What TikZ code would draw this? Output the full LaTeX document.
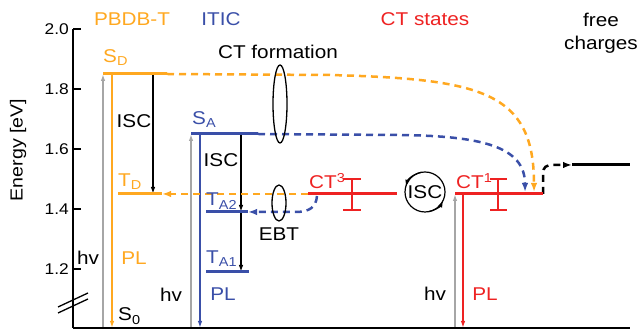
\documentclass[tikz,border=0pt]{standalone}
\usepackage{fontspec}
\setmainfont{Liberation Sans}[FakeStretch=1.12]
\usetikzlibrary{arrows.meta,calc}
\definecolor{orng}{HTML}{FFA820}
\definecolor{blu}{HTML}{3A4FA8}
\definecolor{rd}{HTML}{EE2222}
\definecolor{gry}{HTML}{A6A6A6}
\begin{document}
\begin{tikzpicture}[x=1pt,y=1pt,
  lab/.style={font=\fontsize{18.5}{20}\selectfont, inner sep=0pt},
  num/.style={font=\fontsize{15.5}{17}\selectfont, inner sep=0pt, anchor=east},
  level/.style={line width=3pt},
  tip/.style={-{Latex[length=7pt,width=4.5pt]}},
  dtip/.style={-{Latex[length=9pt,width=6.5pt]}},
  thin/.style={line width=1.3pt},
  dsh/.style={line width=2.5pt, dash pattern=on 7pt off 5pt},
  errbar/.style={rd, line width=1.2pt}]
\useasboundingbox (0,0) rectangle (642,331);
% coordinates
\coordinate (G0) at (73,3);
\coordinate (G1) at (630,3);
\coordinate (Atop) at (73,302);
\coordinate (SDl) at (103,257); \coordinate (SDr) at (167,257);
\coordinate (TDl) at (118,137); \coordinate (TDr) at (162,137);
\coordinate (SAl) at (191,197); \coordinate (SAr) at (258,197);
\coordinate (TA2l) at (206,119); \coordinate (TA2r) at (248,119);
\coordinate (TA1l) at (206,59); \coordinate (TA1r) at (249,59);
\coordinate (CT3l) at (308,137); \coordinate (CT3r) at (397,137);
\coordinate (CT1l) at (455,137); \coordinate (CT1r) at (543,137);
\coordinate (FCl) at (572,166); \coordinate (FCr) at (630,166);
% axis
\draw[thin] (G0) -- (Atop);
\foreach \yy/\tx in {302/2.0,242/1.8,182/1.6,122/1.4,62/1.2}{
  \draw[thin] (73,\yy) -- (81,\yy);
  \node[num] at (69,\yy) {\tx};
}
\draw[thin] (58,24) -- (88,38);
\draw[thin] (58,18) -- (88,32);
\node[lab, font=\fontsize{17.5}{19}\selectfont, rotate=90] (elab) at (18,181) {Energy [eV]};
% headers
\node[lab, text=orng] (h1) at (132,312) {PBDB-T};
\node[lab, text=blu] (h2) at (221,312) {ITIC};
\node[lab, text=rd] (h3) at (425,312) {CT states};
\node[lab] (h4) at (601,311) {free};
\node[lab] (h5) at (601,286) {charges};
\node[lab] (ctf) at (278,279) {CT formation};
% vertical arrows
\draw[gry, line width=1.5pt, tip] (SDl|-G0) -- (SDl);
\draw[orng, line width=1.5pt, tip] (112,257) -- (112,3);
\draw[thin, tip] (153,257) -- (153,137);
\draw[gry, line width=1.5pt, tip] (SAl|-G0) -- (SAl);
\draw[blu, line width=1.5pt, tip] (200,197) -- (200,3);
\draw[thin, tip] (241,197) -- (241,119);
\draw[thin, tip] (241,119) -- (241,59);
\draw[gry, line width=1.5pt, tip] (CT1l|-G0) -- (CT1l);
\draw[rd, line width=1.5pt, tip] (463,137) -- (463,3);
% dashed transfers
\draw[orng, dsh, dtip] (SDr) -- (330,256) .. controls (480,252) and (534,240) .. (534,139);
\draw[blu, dsh, dtip] (SAr) -- (400,196) .. controls (480,195) and (525,185) .. (525,139);
\draw[orng, dsh, dtip] (CT3l) -- (TDr);
\draw[blu, dsh, dtip] (317,135) .. controls (316,124) and (310,119) .. (295,119) -- (TA2r);
\draw[dsh, dtip] (CT1r) -- (543,157) .. controls (543,164) and (546,166) .. (553,166) -- (FCl);
% levels
\draw[orng, level] (SDl) -- (SDr);
\draw[orng, level] (TDl) -- (TDr);
\draw[blu, level] (SAl) -- (SAr);
\draw[blu, level] (TA2l) -- (TA2r);
\draw[blu, level] (TA1l) -- (TA1r);
\draw[rd, level] (CT3l) -- (CT3r);
\draw[rd, level] (CT1l) -- (CT1r);
\draw[level] (FCl) -- (FCr);
\draw[line width=2.5pt] (G0) -- (G1);
% error bars
\draw[errbar] (352,121) -- (352,152) (343,121) -- (361,121) (343,152) -- (361,152);
\draw[errbar] (498,121) -- (498,152) (490,121) -- (507,121) (490,152) -- (507,152);
% ellipses
\draw[thin] (280,227) ellipse [x radius=7, y radius=39];
\draw[thin] (279,128) ellipse [x radius=7, y radius=18];
% ISC circle
\node[lab, circle, draw, line width=1.2pt, minimum size=40pt] (isc) at (425,139) {ISC};
\draw[line width=1.2pt, tip] ($(isc.center)+(100:20)$) arc (100:165:20);
\draw[line width=1.2pt, tip] ($(isc.center)+(280:20)$) arc (280:335:20);
% level labels
\node[lab, text=orng, anchor=base west] (lSD) at (103,268) {S\textsubscript{D}};
\node[lab, text=orng, anchor=base west] (lTD) at (118,144) {T\textsubscript{D}};
\node[lab, anchor=base west] (lS0) at (118,10) {S\textsubscript{0}};
\node[lab, text=blu, anchor=base west] (lSA) at (192,206) {S\textsubscript{A}};
\node[lab, text=blu, anchor=base west] (lTA2) at (206,125) {T\textsubscript{A2}};
\node[lab, text=blu, anchor=base west] (lTA1) at (206,67) {T\textsubscript{A1}};
\node[lab, text=rd, anchor=base west] (lCT3) at (309,142) {CT\textsuperscript{3}};
\node[lab, text=rd, anchor=base west] (lCT1) at (456,142) {CT\textsuperscript{1}};
% process labels
\node[lab] (isc1) at (134,210) {ISC};
\node[lab] (isc2) at (221,171) {ISC};
\node[lab] (hv1) at (88,73) {hv};
\node[lab, text=orng] (pl1) at (134,73) {PL};
\node[lab] (hv2) at (171,36) {hv};
\node[lab, text=blu] (pl2) at (223,37) {PL};
\node[lab] (ebt) at (279,97) {EBT};
\node[lab] (hv3) at (435,37) {hv};
\node[lab, text=rd] (pl3) at (485,37) {PL};
\end{tikzpicture}
\end{document}
